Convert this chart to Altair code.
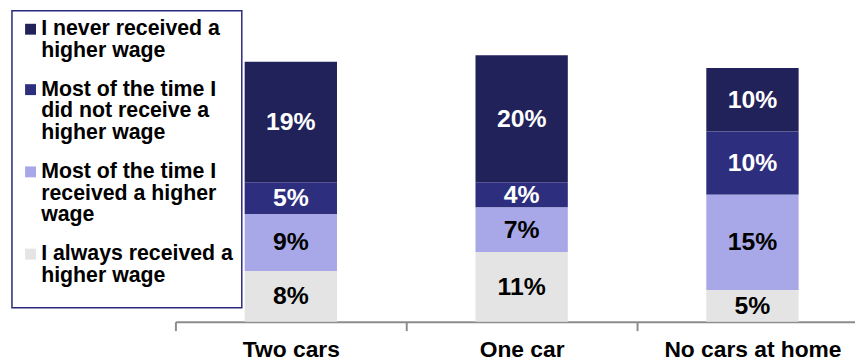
import altair as alt
import pandas as pd

categories = ["Two cars", "One car", "No cars at home"]
series = [
    "I never received a|higher wage",
    "Most of the time I|did not receive a|higher wage",
    "Most of the time I|received a higher|wage",
    "I always received a|higher wage",
]
never_vals = [19, 20, 10]
most_not_vals = [5, 4, 10]
most_recv_vals = [9, 7, 15]
always_vals = [8, 11, 5]
colors = ["#22225a", "#2e2e7e", "#a8a8e8", "#e4e4e4"]

rows = []
for s_idx, (name, vals) in enumerate(zip(series, [never_vals, most_not_vals, most_recv_vals, always_vals])):
    for c_idx, cat in enumerate(categories):
        rows.append({
            "category": cat,
            "series": name,
            "value": vals[c_idx],
            "rank": len(series) - 1 - s_idx,
            "label": f"{vals[c_idx]}%",
        })
df = pd.DataFrame(rows)

FONT = "Liberation Sans"

base = alt.Chart(df).transform_stack(
    stack="value", groupby=["category"], as_=["y0", "y1"],
    sort=[alt.SortField("rank", order="ascending")],
).transform_calculate(mid="(datum.y0 + datum.y1) / 2")

x_enc = alt.X(
    "category:N",
    sort=categories,
    title=None,
    scale=alt.Scale(paddingInner=0, paddingOuter=0),
    axis=alt.Axis(
        labelAngle=0, labelFont=FONT, labelFontSize=23, labelFontWeight="bold",
        labelColor="#000000", labelPadding=8, tickSize=9, tickBand="extent",
        domainColor="#8c8c8c", tickColor="#8c8c8c", domainWidth=2, tickWidth=2,
        grid=False,
    ),
)
y_scale = alt.Scale(domain=[0, 49.2], nice=False)

bars = base.mark_bar(width=alt.RelativeBandSize(0.4)).encode(
    x=x_enc,
    y=alt.Y("y0:Q", scale=y_scale, axis=None),
    y2="y1:Q",
    color=alt.Color(
        "series:N",
        scale=alt.Scale(domain=series, range=colors),
        legend=alt.Legend(
            title=" ", titleOrient="bottom", titleFontSize=8, titlePadding=6,
            orient="none", legendX=-165, legendY=1,
            labelExpr="split(datum.label, '|')",
            labelFont=FONT, labelFontSize=21.5, labelFontWeight="bold",
            labelColor="#000000", labelLimit=400, labelOffset=0,
            symbolType="square", symbolSize=121, symbolStrokeWidth=0,
            symbolOpacity=1, rowPadding=16, padding=8,
            fillColor="#ffffff", strokeColor="#2a2a7a",
        ),
    ),
)

texts = base.mark_text(font=FONT, fontSize=25, fontWeight="bold", baseline="middle").encode(
    x=alt.X("category:N", sort=categories),
    y=alt.Y("mid:Q", scale=y_scale),
    text="label:N",
    color=alt.condition("datum.rank >= 2", alt.value("#ffffff"), alt.value("#000000")),
)

chart = alt.layer(bars, texts).properties(
    width=699, height=315,
    autosize=alt.AutoSizeParams(type="none"),
    padding={"left": 169, "top": 0, "right": -13, "bottom": 38},
    background="#ffffff",
).configure(
    style={"guide-label": {"lineHeight": 22}}
).configure_view(stroke=None).configure_legend(
    strokeWidth=1.5
)

chart.save("out.html", embed_options={"renderer": "svg", "actions": False})
